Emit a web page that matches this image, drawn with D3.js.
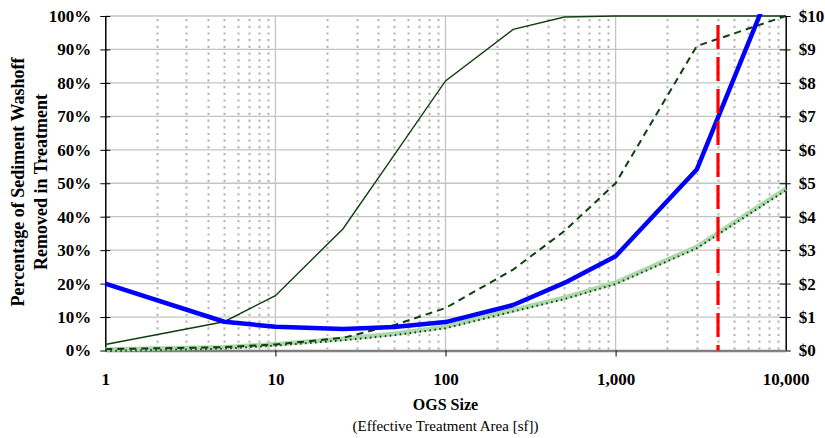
<!DOCTYPE html>
<html>
<head>
<meta charset="utf-8">
<script src="https://cdn.jsdelivr.net/npm/d3@7"></script>
<style>
  body { margin: 0; background: #fff; }
  svg { display: block; font-family: "Liberation Serif", "Times New Roman", serif; }
</style>
</head>
<body>
<div class="chart"></div>
<script>
// OGS size (effective treatment area, sf)
var ogsSize = [1, 5, 10, 25, 50, 100, 250, 500, 1000, 3000, 10000];

// left axis, percent removed
var removalHigh = [1.8, 8.6, 16.4, 36.4, 58.5, 80.6, 96, 99.7, 100, 100, 100];
var removalLow = [0.4, 1.0, 1.8, 3.8, 7.6, 12.7, 24.2, 35.7, 50, 91, 100];

// right axis, dollars
var costUnit = [2.0, 0.86, 0.71, 0.64, 0.70, 0.85, 1.36, 2.02, 2.82, 5.41, 11.93];
var costTotal = [0.03, 0.10, 0.19, 0.35, 0.50, 0.71, 1.21, 1.58, 2.03, 3.10, 4.83];

var markerSize = 4000;

var pctTicks = [0, 10, 20, 30, 40, 50, 60, 70, 80, 90, 100];
var dollarTicks = [0, 1, 2, 3, 4, 5, 6, 7, 8, 9, 10];
var sizeTicks = [1, 10, 100, 1000, 10000];

var width = 825,
    height = 438,
    plotLeft = 105.3,
    plotRight = 785.7,
    plotTop = 16,
    plotBottom = 350.5;

var svg = d3.select(".chart").append("svg")
    .attr("width", width)
    .attr("height", height);

var x = d3.scaleLog().domain([1, 10000]).range([plotLeft, plotRight]);
var yPct = d3.scaleLinear().domain([0, 100]).range([plotBottom, plotTop]);
var yCost = d3.scaleLinear().domain([0, 10]).range([plotBottom, plotTop]);

svg.append("clipPath").attr("id", "plot")
  .append("rect")
    .attr("x", plotLeft - 2).attr("y", plotTop - 2)
    .attr("width", plotRight - plotLeft + 4).attr("height", plotBottom - plotTop + 4);

// minor vertical grid (dotted)
var minor = [];
sizeTicks.slice(0, -1).forEach(function(d) {
    for (var k = 2; k < 10; k++) minor.push(d * k);
});
svg.append("g").selectAll("line").data(minor).enter().append("line")
    .attr("x1", function(d) { return Math.round(x(d)) + 0.5; })
    .attr("x2", function(d) { return Math.round(x(d)) + 0.5; })
    .attr("y1", plotTop + 3)
    .attr("y2", plotBottom)
    .style("stroke", "#b4b4b4")
    .style("stroke-width", 2)
    .style("stroke-dasharray", "2.2,4.5");

// major vertical grid
svg.append("g").selectAll("line").data(sizeTicks.slice(1, -1)).enter().append("line")
    .attr("x1", function(d) { return x(d); })
    .attr("x2", function(d) { return x(d); })
    .attr("y1", plotTop)
    .attr("y2", plotBottom)
    .style("stroke", "#c4c4c4")
    .style("stroke-width", 1.3);

// horizontal grid
svg.append("g").selectAll("line").data(pctTicks.slice(1)).enter().append("line")
    .attr("x1", plotLeft)
    .attr("x2", plotRight)
    .attr("y1", function(d) { return yPct(d); })
    .attr("y2", function(d) { return yPct(d); })
    .style("stroke", "#c4c4c4")
    .style("stroke-width", 1.3);

// axes
var leftAxis = svg.append("g")
    .attr("transform", "translate(" + plotLeft + ",0)")
    .call(d3.axisLeft(yPct).tickValues(pctTicks).tickFormat(function(d) { return d + "%"; })
        .tickSizeInner(5).tickSizeOuter(0).tickPadding(9));

var rightAxis = svg.append("g")
    .attr("transform", "translate(" + plotRight + ",0)")
    .call(d3.axisRight(yCost).tickValues(dollarTicks).tickFormat(function(d) { return "$" + d; })
        .tickSizeInner(5).tickSizeOuter(0).tickPadding(8));
rightAxis.selectAll(".tick line").attr("x1", -6).attr("x2", 5);

var bottomAxis = svg.append("g")
    .attr("transform", "translate(0," + plotBottom + ")")
    .call(d3.axisBottom(x).tickValues(sizeTicks).tickFormat(d3.format(","))
        .tickSizeInner(6).tickSizeOuter(0).tickPadding(16));

leftAxis.selectAll(".tick line").attr("x1", -5).attr("x2", 5);
[leftAxis, rightAxis, bottomAxis].forEach(function(a) {
    a.selectAll("text")
        .style("font-family", "Liberation Serif")
        .style("font-size", "17px")
        .style("font-weight", "bold")
        .style("fill", "#000");
    a.selectAll(".tick line").style("stroke", "#000");
});
leftAxis.select(".domain").style("stroke", "#000").style("stroke-width", 1.5);
rightAxis.select(".domain").style("stroke", "#000").style("stroke-width", 1.5);
bottomAxis.select(".domain").style("stroke", "#808080").style("stroke-width", 2.5);
bottomAxis.selectAll(".tick line").filter(function(d) { return d === 1 || d === 10000; }).remove();

// series
var lines = svg.append("g").attr("clip-path", "url(#plot)");

function pctLine(values) {
    return d3.line()
        .x(function(d, i) { return x(ogsSize[i]); })
        .y(function(d) { return yPct(d); })(values);
}
function costLine(values) {
    return d3.line()
        .x(function(d, i) { return x(ogsSize[i]); })
        .y(function(d) { return yCost(d); })(values);
}

lines.append("path")
    .attr("d", costLine(costTotal))
    .style("fill", "none")
    .style("stroke", "#acd8ac")
    .style("stroke-width", 4.5);
lines.append("path")
    .attr("d", costLine(costTotal))
    .attr("transform", "translate(0,1.5)")
    .style("fill", "none")
    .style("stroke", "#0d3d0d")
    .style("stroke-width", 2)
    .style("stroke-dasharray", "1.5,3.5");

lines.append("path")
    .attr("d", pctLine(removalHigh))
    .style("fill", "none")
    .style("stroke", "#0f3f0f")
    .style("stroke-width", 1.4);

lines.append("path")
    .attr("d", pctLine(removalLow))
    .style("fill", "none")
    .style("stroke", "#0f3f0f")
    .style("stroke-width", 2)
    .style("stroke-dasharray", "7,5");

lines.append("path")
    .attr("d", costLine(costUnit))
    .style("fill", "none")
    .style("stroke", "#0000ff")
    .style("stroke-width", 4.5)
    .style("stroke-linejoin", "round");

// marker line
svg.append("line")
    .attr("x1", x(markerSize))
    .attr("x2", x(markerSize))
    .attr("y1", 25)
    .attr("y2", plotBottom)
    .style("stroke", "#ff0000")
    .style("stroke-width", 3.2)
    .style("stroke-dasharray", "24,8");

// titles
var yTitle = svg.append("text")
    .attr("transform", "translate(18,182) rotate(-90)")
    .attr("text-anchor", "middle")
    .style("font-size", "18px")
    .style("font-weight", "bold");
yTitle.append("tspan").attr("x", 0).attr("dy", "0.35em").text("Percentage of Sediment Washoff");
yTitle.append("tspan").attr("x", 0).attr("dy", "1.25em").text("Removed in Treatment");

svg.append("text")
    .attr("x", (plotLeft + plotRight) / 2)
    .attr("y", 410)
    .attr("text-anchor", "middle")
    .style("font-size", "16px")
    .style("font-weight", "bold")
    .text("OGS Size");

svg.append("text")
    .attr("x", (plotLeft + plotRight) / 2)
    .attr("y", 431)
    .attr("text-anchor", "middle")
    .style("font-size", "15px")
    .text("(Effective Treatment Area [sf])");
</script>
</body>
</html>
